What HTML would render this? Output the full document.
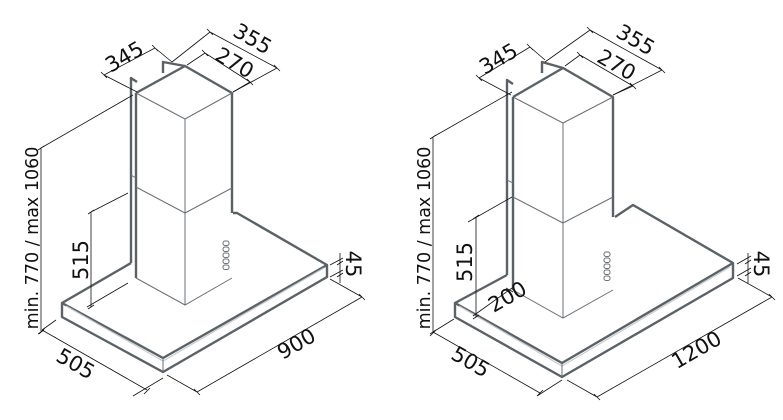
<!DOCTYPE html>
<html><head><style>
html,body{margin:0;padding:0;background:#fff;}
svg{display:block;}
text{font-family:"DejaVu Sans","Liberation Sans",sans-serif;font-size:21px;fill:#111;}
text.l{font-size:17.5px;}
.o{fill:none;stroke:#5a6266;stroke-width:2.4;stroke-linejoin:round;}
.i{fill:none;stroke:#6a7074;stroke-width:1;}
.d{fill:none;stroke:#111;stroke-width:0.8;}
.h{fill:none;stroke:#c8cccf;stroke-width:1.2;}
</style></head><body>
<svg width="783" height="420" viewBox="0 0 783 420" xmlns="http://www.w3.org/2000/svg">
<g>
<path class="o" d="M131,263 L62,303 L62,317 L163,372 L327,277 L327,265 L237,213 L233,213"/>
<path class="o" d="M62,303 L163,358 L327,265"/>
<path class="h" d="M66,306 L163,361 L324,268"/>
<path class="i" d="M163,358 L163,372"/>
<path class="o" d="M131,263 L131,78 L137,82"/>
<path class="o" d="M163,73 L163,62 L185,66"/>
<path class="o" d="M136,93 L185,66 L232,93 L232,213"/>
<path class="o" d="M136,93 L136,278"/>
<path class="i" d="M136,93 L185,119 L232,93 M185,119 L185,305 M136,278 L185,305 L232,278 M136,187 L185,213 L232,188 M131,175 L136,178"/>
<g class="i"><rect x="223" y="241" width="6" height="4.5" rx="2"/><rect x="223" y="247" width="6" height="4.5" rx="2"/><rect x="223" y="253" width="6" height="4.5" rx="2"/><rect x="223" y="259" width="6" height="4.5" rx="2"/><rect x="223" y="265" width="6" height="4.5" rx="2"/></g>
<path class="d" d="M41,148 L41,332 M38,150 L44,146 M38,334 L44,330 M41,148 L133,95"/>
<text class="l" transform="translate(38,238) rotate(-90)" text-anchor="middle">min. 770 / max 1060</text>
<path class="d" d="M91,212 L91,307 M91,212 L128,193 M87,307 L128,283 M88,214 L94,210 M88,309 L94,305"/>
<text transform="translate(88,260) rotate(-90)" text-anchor="middle">515</text>
<path class="d" d="M42,330 L147,390 M56,320 L42,330 M163,378 L133,396 M39,334 L45,328 M144,394 L150,388"/>
<text transform="translate(72,370) rotate(30)" text-anchor="middle">505</text>
<path class="d" d="M197,392 L362,297 M167,375 L197,392 M330,279 L362,297 M194,389 L200,395 M359,294 L365,300"/>
<text transform="translate(300,350) rotate(-30)" text-anchor="middle">900</text>
<path class="d" d="M340,253 L340,283 M330,265 L343,258 M330,277 L343,270 M337,265 L343,261 M337,277 L343,273"/>
<text transform="translate(346,264) rotate(90)" text-anchor="middle">45</text>
<path class="d" d="M104,75 L155,48 M104,75 L137,92 M155,48 L172,62 M101,72 L107,78 M152,45 L158,51"/>
<text transform="translate(128,63) rotate(-30)" text-anchor="middle">345</text>
<path class="d" d="M172,62 L210,32 L277,68 M233,92 L277,68 M207,29 L213,35 M274,65 L280,71"/>
<text transform="translate(249,45) rotate(30)" text-anchor="middle">355</text>
<path class="d" d="M187,65 L205,53 L250,82 M233,92 L250,82 M202,50 L208,56 M247,79 L253,85"/>
<text transform="translate(231,69) rotate(30)" text-anchor="middle">270</text>
</g>

<g>
<path class="o" d="M507,275 L455,303 L455,317 L562,377 L733,278 L733,263 L633,205 L615,217"/>
<path class="o" d="M455,303 L562,363 L733,263"/>
<path class="h" d="M459,306 L562,366 L730,267"/>
<path class="i" d="M562,363 L562,377"/>
<path class="o" d="M507,275 L507,80 L513,84"/>
<path class="o" d="M542,73 L542,62 L563,68"/>
<path class="o" d="M513,97 L563,68 L613,97 L613,217"/>
<path class="o" d="M513,97 L513,290"/>
<path class="i" d="M513,97 L563,123 L613,97 M563,123 L563,318 M513,290 L563,318 L613,290 M513,197 L563,223 L613,197 M507,180 L513,183"/>
<g class="i"><rect x="604" y="252" width="6" height="4.5" rx="2"/><rect x="604" y="258" width="6" height="4.5" rx="2"/><rect x="604" y="264" width="6" height="4.5" rx="2"/><rect x="604" y="270" width="6" height="4.5" rx="2"/><rect x="604" y="276" width="6" height="4.5" rx="2"/></g>
<path class="d" d="M433,137 L433,332 M430,139 L436,135 M430,334 L436,330 M433,137 L512,92"/>
<text class="l" transform="translate(430,238) rotate(-90)" text-anchor="middle">min. 770 / max 1060</text>
<path class="d" d="M476,217 L476,317 M468,222 L512,197 M473,219 L479,215 M473,319 L479,315"/>
<text transform="translate(472,262) rotate(-90)" text-anchor="middle">515</text>
<path class="d" d="M473,316 L512,288 M506,288 L513,292"/>
<text transform="translate(511,303) rotate(-30)" text-anchor="middle">200</text>
<path class="d" d="M433,332 L540,393 M454,319 L433,332 M562,380 L537,396 M430,336 L436,330 M537,396 L543,390"/>
<text transform="translate(467,368) rotate(30)" text-anchor="middle">505</text>
<path class="d" d="M597,397 L772,297 M567,380 L597,397 M738,278 L772,297 M594,394 L600,400 M769,294 L775,300"/>
<text transform="translate(700,356) rotate(-30)" text-anchor="middle">1200</text>
<path class="d" d="M748,253 L748,283 M737,264 L751,256 M737,276 L751,268 M745,264 L751,260 M745,276 L751,272"/>
<text transform="translate(754,264) rotate(90)" text-anchor="middle">45</text>
<path class="d" d="M479,78 L530,47 M479,78 L511,95 M530,47 L545,60 M476,75 L482,81 M527,44 L533,50"/>
<text transform="translate(502,65) rotate(-30)" text-anchor="middle">345</text>
<path class="d" d="M545,62 L590,30 L662,70 M613,95 L662,70 M587,27 L593,33 M659,67 L665,73"/>
<text transform="translate(632,46) rotate(30)" text-anchor="middle">355</text>
<path class="d" d="M565,66 L580,55 L633,86 M613,95 L633,86 M577,52 L583,58 M630,83 L636,89"/>
<text transform="translate(613,71) rotate(30)" text-anchor="middle">270</text>
</g>
</svg>
</body></html>
